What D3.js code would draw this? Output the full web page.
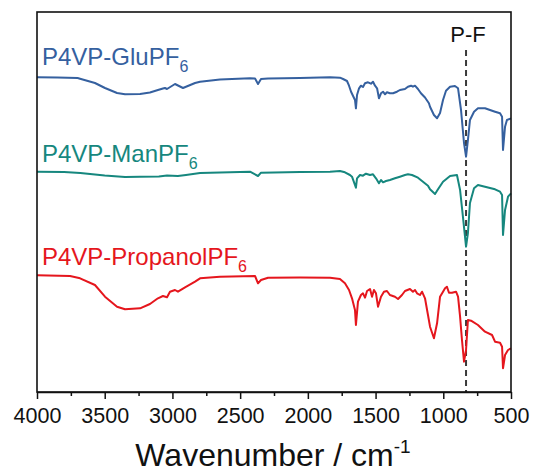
<!DOCTYPE html>
<html>
<head>
<meta charset="utf-8">
<script src="https://cdn.jsdelivr.net/npm/d3@7"></script>
<style>
  html, body { margin: 0; padding: 0; background: #fff; }
  svg { display: block; }
  text { font-family: "Liberation Sans", Arial, sans-serif; }
</style>
</head>
<body>
<svg id="chart" width="533" height="472"></svg>
<script>
// ---- data (wavenumber cm^-1, offset transmittance a.u.) ----
const seriesNames = ["P4VP-GluPF", "P4VP-ManPF", "P4VP-PropanolPF"];
const seriesSub = ["6", "6", "6"];
const seriesColors = ["#35609f", "#16877e", "#e5161d"];

const gluData = [
  [4000,314.7],[3850,314.5],[3700,314],[3682,313.3],[3572,309],[3498,304],[3409,299],[3350,297.7],
  [3239,298],[3166,299.5],[3107,302],[3070,303.5],[3055,304],[3040,303],[2981,308],[2922,304],
  [2833,309],[2796,310.3],[2649,312.5],[2427,313.7],[2390,313.5],[2368,308],[2346,313],[2294,313.5],
  [2058,314],[1836,314.7],[1763,314.3],[1740,313],[1711,311],[1696,306.3],[1681,300.3],[1652,292],
  [1645,283.7],[1637,297],[1622,303.7],[1608,306.3],[1593,305],[1578,308.7],[1556,309.7],[1534,308.3],
  [1519,310.3],[1504,306.3],[1489,303.7],[1475,293.7],[1460,298.7],[1445,300.3],[1430,297.7],[1416,299.7],
  [1394,298.7],[1371,298.7],[1342,300.3],[1320,302],[1283,303],[1261,305.3],[1238,306.3],[1224,305.3],
  [1209,306.3],[1187,303],[1165,298.7],[1135,294.5],[1106,288.7],[1098,285.3],[1069,277],[1046,273.7],
  [1024,279],[1002,292],[980,301.3],[950,305.3],[914,306],[891,303.7],[869,282],[847,249],
  [832,235.3],[818,252],[803,272],[773,280.3],[744,283.7],[692,283.7],[618,280.3],[581,278.7],
  [566,275.3],[559,242],[544,265.3],[530,272],[500,273.7]
];

const manData = [
  [4000,220.3],[3800,220],[3680,219],[3500,216.5],[3350,215],[3240,215.3],[3100,215.5],[3040,216.5],
  [2960,216],[2900,217],[2796,219],[2427,220.3],[2368,216],[2346,219.3],[2058,220],[1836,220.3],
  [1763,221],[1726,219.7],[1689,217],[1674,215.3],[1645,204.3],[1637,213.7],[1615,217],[1593,216.3],
  [1571,218.3],[1541,217],[1519,217.7],[1497,213.7],[1475,208.7],[1460,212],[1445,209.7],[1423,211],
  [1394,212],[1357,213.7],[1320,215.3],[1283,217],[1261,217.7],[1231,217],[1187,214.3],[1157,211],
  [1113,206.3],[1098,202.7],[1061,198],[1039,202.7],[1002,210.3],[950,216],[899,217],[876,202],
  [855,175.3],[832,145.3],[818,159],[803,189],[773,203.7],[744,207],[692,205.3],[618,202.7],
  [581,200.3],[566,197],[559,157],[544,182],[522,195.3],[500,198.7]
];

const propanolData = [
  [4000,116.7],[3756,116],[3682,113.7],[3572,107],[3498,95.3],[3409,85.3],[3350,82.7],[3239,83.7],
  [3166,88],[3107,93.7],[3070,96],[3040,94.7],[3018,100.3],[2981,102],[2959,100.3],[2907,104.7],
  [2833,110.3],[2796,113.7],[2649,115.3],[2390,116],[2368,108.7],[2346,112],[2294,114.3],[2058,114.5],
  [1836,114.3],[1763,113],[1726,108.7],[1696,102],[1674,93.7],[1652,82],[1645,67],[1630,90.3],
  [1608,97],[1593,98.7],[1578,94.3],[1563,101],[1541,103],[1526,95.3],[1512,102],[1497,98.7],
  [1482,85.3],[1460,95.3],[1438,100.3],[1416,101],[1394,97],[1357,95.3],[1334,93],[1305,97],
  [1283,101],[1246,103],[1224,100.3],[1209,102],[1194,98.7],[1172,97],[1157,100.3],[1135,93.7],
  [1113,77],[1098,65.3],[1069,53.7],[1046,68.7],[1024,95.3],[1002,100.3],[987,103.7],[973,105.3],
  [958,99.3],[936,99.3],[906,100.3],[891,95.3],[876,75.3],[862,52],[847,30.3],[832,42],
  [818,72],[795,71.3],[744,67],[692,60.3],[640,57],[618,50.3],[581,49.3],[566,45.3],
  [559,23.7],[544,37],[522,42],[500,43.7]
];

const majorTicks = [4000, 3500, 3000, 2500, 2000, 1500, 1000, 500];
const minorTicks = [3750, 3250, 2750, 2250, 1750, 1250, 750];
const xTitle = "Wavenumber / cm";
const xTitleSup = "-1";
const peakLabel = "P-F";
const peakPosition = 832;

// ---- layout ----
const svg = d3.select("#chart");
const mLeft = 37, mRight = 511, mTop = 12, mBottom = 392;

const x = d3.scaleLinear().domain([4000, 500]).range([mLeft, mRight]);
const y = d3.scaleLinear().domain([0, 380]).range([mBottom, mTop]);

const line = d3.line().x(d => x(d[0])).y(d => y(d[1]));

const allSeries = [gluData, manData, propanolData];

// dashed P-F line
svg.append("line")
  .attr("x1", x(peakPosition)).attr("x2", x(peakPosition))
  .attr("y1", 50).attr("y2", mBottom)
  .attr("stroke", "#3a3a3a").attr("stroke-width", 2)
  .attr("stroke-dasharray", "6,4");

svg.append("text")
  .attr("x", x(peakPosition) + 2).attr("y", 42)
  .attr("text-anchor", "middle")
  .attr("font-size", 22).attr("fill", "#111")
  .text(peakLabel);

// spectra
allSeries.forEach((data, i) => {
  svg.append("path")
    .datum(data)
    .attr("fill", "none")
    .attr("stroke", seriesColors[i])
    .attr("stroke-width", 2)
    .attr("stroke-linejoin", "round")
    .attr("d", line);
});

// series labels
const labelBaselines = [65, 162, 265];
seriesNames.forEach((name, i) => {
  const t = svg.append("text")
    .attr("x", 42).attr("y", labelBaselines[i])
    .attr("font-size", 24).attr("fill", seriesColors[i]);
  t.append("tspan").text(name);
  t.append("tspan").attr("font-size", 16).attr("dy", 7).text(seriesSub[i]);
});

// frame
svg.append("rect")
  .attr("x", mLeft).attr("y", mTop)
  .attr("width", mRight - mLeft).attr("height", mBottom - mTop)
  .attr("fill", "none").attr("stroke", "#111").attr("stroke-width", 1.6);

// axes
const xAxis = d3.axisBottom(x).tickValues(majorTicks).tickSize(7).tickSizeOuter(0)
  .tickPadding(9).tickFormat(d3.format("d"));
const gx = svg.append("g").attr("transform", `translate(0,${mBottom})`).call(xAxis);
gx.select(".domain").attr("stroke", "#111").attr("stroke-width", 1.6);
gx.selectAll(".tick line").attr("stroke", "#111").attr("stroke-width", 1.5);
gx.selectAll(".tick text").attr("font-size", 21.5).attr("fill", "#111")
  .attr("font-family", "Liberation Sans, Arial, sans-serif");

const xMinor = d3.axisBottom(x).tickValues(minorTicks).tickSize(4).tickSizeOuter(0).tickFormat("");
const gm = svg.append("g").attr("transform", `translate(0,${mBottom})`).call(xMinor);
gm.select(".domain").remove();
gm.selectAll(".tick line").attr("stroke", "#111").attr("stroke-width", 1.5);

// axis title
const title = svg.append("text")
  .attr("x", 273).attr("y", 465.5)
  .attr("text-anchor", "middle")
  .attr("font-size", 32).attr("fill", "#111");
title.append("tspan").text(xTitle);
title.append("tspan").attr("font-size", 19).attr("dy", -12.5).text(xTitleSup);
</script>
</body>
</html>
